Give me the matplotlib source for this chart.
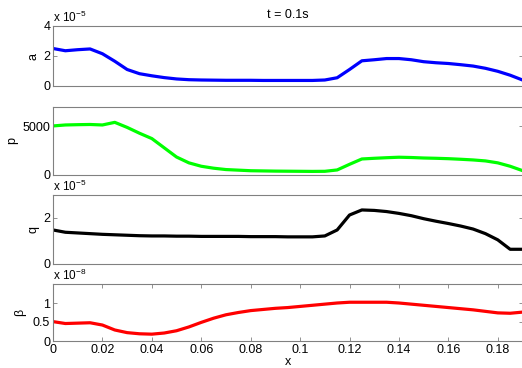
import numpy as np
import matplotlib
matplotlib.use('Agg')
import matplotlib.pyplot as plt

plt.rcParams['font.family'] = ['Liberation Sans', 'DejaVu Sans']
plt.rcParams['mathtext.fontset'] = 'custom'
plt.rcParams['mathtext.rm'] = 'Liberation Sans'
plt.rcParams['mathtext.it'] = 'Liberation Sans'

# grid along x (every 0.005 from 0 to 0.19)
x = np.arange(39) * 0.005

# a  (x 1e-5)
a_vals = [2.50, 2.35, 2.42, 2.47, 2.15, 1.65, 1.10, 0.82, 0.68, 0.56,
          0.47, 0.42, 0.40, 0.39, 0.38, 0.38, 0.38, 0.37, 0.37, 0.37,
          0.37, 0.37, 0.40, 0.55, 1.10, 1.68, 1.75, 1.83, 1.83, 1.75,
          1.62, 1.55, 1.50, 1.42, 1.33, 1.18, 0.98, 0.72, 0.40]
# p
p_vals = [5050, 5150, 5180, 5200, 5150, 5420, 4900, 4300, 3750, 2800,
          1850, 1250, 900, 700, 560, 500, 440, 420, 400, 390,
          380, 370, 380, 520, 1100, 1650, 1720, 1780, 1830, 1800,
          1750, 1720, 1680, 1620, 1550, 1450, 1250, 900, 450]
# q  (x 1e-5)
q_vals = [1.48, 1.38, 1.35, 1.32, 1.29, 1.27, 1.25, 1.23, 1.22, 1.22,
          1.21, 1.21, 1.20, 1.20, 1.20, 1.20, 1.19, 1.19, 1.19, 1.18,
          1.18, 1.18, 1.22, 1.48, 2.13, 2.35, 2.33, 2.28, 2.20, 2.10,
          1.97, 1.86, 1.76, 1.65, 1.52, 1.32, 1.05, 0.64, 0.64]
# beta  (x 1e-8)
b_vals = [0.51, 0.46, 0.47, 0.48, 0.42, 0.29, 0.22, 0.19, 0.18, 0.21,
          0.27, 0.37, 0.49, 0.60, 0.69, 0.75, 0.80, 0.83, 0.86, 0.88,
          0.91, 0.94, 0.97, 1.00, 1.02, 1.02, 1.02, 1.02, 1.00, 0.97,
          0.94, 0.91, 0.88, 0.85, 0.82, 0.78, 0.74, 0.73, 0.76]

W, H = 522, 368
fig = plt.figure(figsize=(W / 100, H / 100), dpi=100)

# (top px, bottom px) of each panel
rows = [(26, 86), (107, 175), (195, 264), (284, 341)]
series = [a_vals, p_vals, q_vals, b_vals]
colors = ['#0000ff', '#00ff00', '#000000', '#ff0000']
ylabels = ['a', 'p', 'q', r'$\beta$']
ylims = [(0, 4), (0, 7000), (0, 3), (0, 1.5)]
yticks = [[0, 2, 4], [0, 5000], [0, 2], [0, 0.5, 1]]
yticklabels = [['0', '2', '4'], ['0', '5000'], ['0', '2'], ['0', '0.5', '1']]
exps = [r'x 10$^{-5}$', None, r'x 10$^{-5}$', r'x 10$^{-8}$']
xticks = [0, 0.02, 0.04, 0.06, 0.08, 0.1, 0.12, 0.14, 0.16, 0.18]
xticklabels = ['0', '0.02', '0.04', '0.06', '0.08', '0.1', '0.12', '0.14', '0.16', '0.18']

left, right = 53, 522.5
frame = '#808080'
axes = []
for i, (top, bot) in enumerate(rows):
    ax = fig.add_axes([left / W, (H - bot) / H, (right - left) / W, (bot - top) / H])
    ax.plot(x, series[i], color=colors[i], lw=2.3)
    ax.set_xlim(0, 0.19)
    ax.set_ylim(*ylims[i])
    ax.set_yticks(yticks[i])
    ax.set_yticklabels(yticklabels[i])
    ax.tick_params(axis='both', direction='in', length=3, width=0.6, color=frame,
                   labelsize=9, pad=2, right=True, top=True)
    for s in ax.spines.values():
        s.set_color(frame)
        s.set_linewidth(0.8)
    if i < 3:
        ax.set_xticks([])
    else:
        ax.set_xticks(xticks)
        ax.set_xticklabels(xticklabels)
        ax.set_xlabel('x', fontsize=9, labelpad=0)
    ax.set_ylabel(ylabels[i], fontsize=9, labelpad=3)
    if exps[i]:
        ax.text(0, 1.02, exps[i], transform=ax.transAxes, fontsize=8.5,
                ha='left', va='bottom')
    axes.append(ax)

axes[0].set_title('t = 0.1s', fontsize=9, pad=6)

fig.savefig('out.png', dpi=100)
